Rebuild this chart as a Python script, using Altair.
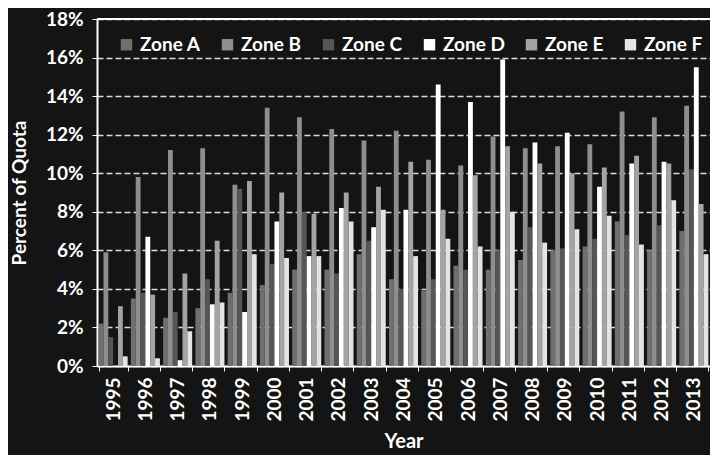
import altair as alt
import pandas as pd

years = [str(y) for y in range(1995, 2014)]
zones = ["Zone A", "Zone B", "Zone C", "Zone D", "Zone E", "Zone F"]
zone_a = [2.2, 3.5, 2.5, 3.0, 3.8, 4.2, 5.0, 5.0, 5.8, 4.5, 3.9, 5.2, 5.0, 5.5, 6.0, 6.2, 7.5, 6.0, 7.0]
zone_b = [5.9, 9.8, 11.2, 11.3, 9.4, 13.4, 12.9, 12.3, 11.7, 12.2, 10.7, 10.4, 11.9, 11.3, 11.4, 11.5, 13.2, 12.9, 13.5]
zone_c = [1.5, 3.8, 2.8, 4.5, 9.2, 5.3, 8.0, 4.8, 6.5, 4.0, 4.5, 5.0, 6.0, 7.2, 6.1, 6.6, 6.8, 7.3, 10.2]
zone_d = [0.0, 6.7, 0.3, 3.2, 2.8, 7.5, 5.7, 8.2, 7.2, 8.1, 14.6, 13.7, 15.9, 11.6, 12.1, 9.3, 10.5, 10.6, 15.5]
zone_e = [3.1, 3.7, 4.8, 6.5, 9.6, 9.0, 7.9, 9.0, 9.3, 10.6, 8.1, 9.9, 11.4, 10.5, 10.0, 10.3, 10.9, 10.5, 8.4]
zone_f = [0.5, 0.4, 1.8, 3.3, 5.8, 5.6, 5.7, 7.5, 8.1, 5.7, 6.6, 6.2, 8.0, 6.4, 7.1, 7.8, 6.3, 8.6, 5.8]
zone_colors = ["#6f6f6f", "#8e8e8e", "#565656", "#ffffff", "#a4a4a4", "#e4e4e4"]
y_ticks = [0, 0.02, 0.04, 0.06, 0.08, 0.10, 0.12, 0.14, 0.16, 0.18]

series = [zone_a, zone_b, zone_c, zone_d, zone_e, zone_f]
rows = []
for z, vals in zip(zones, series):
    for yr, v in zip(years, vals):
        rows.append({"Year": yr, "Zone": z, "Value": v / 100.0})
df = pd.DataFrame(rows)

FONT = "Lato"

y_axis = alt.Axis(title="Percent of Quota", values=y_ticks, format=".0%",
                  labelOverlap=False, labelFontSize=19, labelFont=FONT,
                  labelFontWeight="bold", labelColor="white", labelPadding=9,
                  tickColor="white", tickSize=5, domainColor="white", domainWidth=2,
                  grid=True, gridColor="white", gridDash=[6, 3], gridOpacity=0.85,
                  gridWidth=1.5,
                  titleFontSize=19, titleFont=FONT, titleFontWeight="bold",
                  titleColor="white", titlePadding=16)

bars = alt.Chart(df).mark_bar().encode(
    x=alt.X("Year:N", sort=years,
            scale=alt.Scale(paddingInner=0.1, paddingOuter=0.05),
            axis=alt.Axis(title="Year", labelAngle=270, labelFontSize=19, labelFont=FONT,
                          labelFontWeight="bold", labelColor="white", labelPadding=6,
                          tickBand="extent", tickColor="white", tickSize=5,
                          domainColor="white", domainWidth=2,
                          titleFontSize=20, titleFont=FONT, titleFontWeight="bold",
                          titleColor="white", titlePadding=10)),
    xOffset=alt.XOffset("Zone:N", sort=zones),
    y=alt.Y("Value:Q", scale=alt.Scale(domain=[0, 0.18], nice=False), axis=y_axis),
    color=alt.Color("Zone:N", sort=zones,
                    scale=alt.Scale(domain=zones, range=zone_colors),
                    legend=alt.Legend(title=None, orient="none", legendX=20, legendY=16,
                                      direction="horizontal", symbolType="square",
                                      symbolSize=130, symbolStrokeWidth=0,
                                      labelFontSize=19, labelFont=FONT, labelFontWeight="bold",
                                      labelColor="white", columnPadding=17, symbolOffset=0)),
)

top_line = alt.Chart(pd.DataFrame({"Value": [0.18]})).mark_rule(color="white", strokeWidth=2).encode(
    y=alt.Y("Value:Q", scale=alt.Scale(domain=[0, 0.18], nice=False), axis=y_axis)
)

chart = alt.layer(bars, top_line).properties(
    width=613, height=347,
    autosize=alt.AutoSizeParams(type="none"),
    padding={"left": 89, "top": 11, "right": 0, "bottom": 89},
    background="#141414",
).configure_view(stroke=None)

chart.save("out.html", embed_options={"renderer": "svg", "actions": False})
